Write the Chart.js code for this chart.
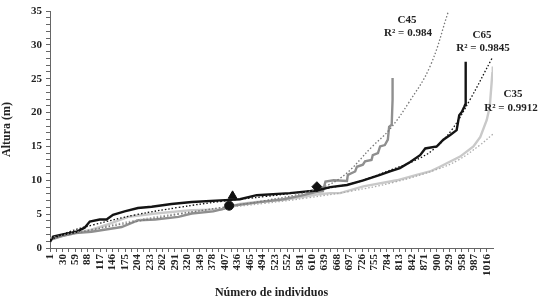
<!DOCTYPE html>
<html>
<head>
<meta charset="utf-8">
<script src="https://cdn.jsdelivr.net/npm/chart.js@4.4.0/dist/chart.umd.min.js"></script>
<style>
  body { margin: 0; background: #fff; }
  #wrap { width: 540px; height: 302px; }
</style>
</head>
<body>
<div id="wrap"><canvas id="alturas" width="540" height="302"></canvas></div>
<script>
// x tick labels (número de individuos)
const xLabels = [];
for (let v = 1; v <= 1016; v += 29) xLabels.push(v);

// ranked heights: [individuo, altura]
const c65 = [[1,0.9],[3,1.2],[8,1.7],[30,2.0],[62,2.4],[81,3.0],[93,3.9],[116,4.2],[132,4.2],[147,4.9],[174,5.4],[205,5.9],[237,6.1],[283,6.5],[330,6.8],[419,7.1],[442,7.2],[481,7.8],[558,8.1],[621,8.5],[652,9.0],[691,9.3],[729,10.0],[768,10.8],[791,11.3],[814,11.8],[838,12.7],[861,13.7],[873,14.7],[900,15.0],[915,16.0],[931,16.7],[946,17.4],[952,19.6],[958,20.1],[964,20.9],[966,21.2],[967,27.5]];
const c45 = [[1,1.2],[30,1.8],[60,2.2],[97,2.4],[167,3.1],[206,4.1],[245,4.2],[299,4.6],[330,5.1],[380,5.4],[411,5.9],[420,6.2],[480,6.7],[543,7.2],[582,7.7],[621,8.3],[635,8.4],[641,9.8],[660,10.0],[691,9.9],[693,10.8],[710,11.3],[714,12.0],[728,12.3],[733,12.8],[748,13.0],[751,13.7],[763,14.0],[768,15.0],[779,15.2],[786,16.0],[789,17.9],[795,18.2],[797,21.9],[797,25.1]];
const c35 = [[1,1.3],[30,1.8],[60,2.2],[97,2.7],[140,3.6],[182,4.6],[245,5.1],[330,5.6],[400,5.7],[411,6.0],[442,6.5],[481,6.8],[543,7.1],[582,7.5],[621,7.9],[652,8.1],[675,8.1],[729,9.1],[807,10.0],[853,10.8],[884,11.3],[907,12.0],[954,13.5],[985,15.0],[1001,16.4],[1016,18.9],[1023,20.9],[1029,25.8],[1030,26.8]];

// trend lines
const c65Trend = [[1,1.2],[50,2.5],[100,3.4],[200,4.9],[300,6.0],[400,6.9],[500,7.6],[600,8.4],[700,9.5],[750,10.5],[800,11.7],[845,12.8],[891,14.5],[934,17.4],[977,21.9],[1028,28.0]];
const c45Trend = [[1,1.4],[100,2.7],[200,3.9],[300,5.0],[400,6.0],[500,7.0],[600,8.3],[675,10.3],[750,15.0],[790,17.5],[835,21.5],[884,26.8],[927,35.0]];
const c35Trend = [[1,1.5],[100,2.8],[200,4.1],[300,5.1],[400,5.9],[500,6.6],[600,7.4],[700,8.4],[800,9.7],[900,11.6],[950,13.0],[1000,15.2],[1030,16.8]];

// markers
const markers = [[425,7.7],[417,6.25],[621,9.05]];
const markerStyles = ['triangle','circle','rectRot'];

// series notes
const notes = [
  { name: 'C45', r2: 'R² = 0.984' },
  { name: 'C65', r2: 'R² = 0.9845' },
  { name: 'C35', r2: 'R² = 0.9912' }
];

const pts = arr => arr.map(p => ({ x: p[0], y: p[1] }));
const serif = '"Liberation Serif", "DejaVu Serif", serif';

const xTickVals = [];
for (let v = 1; v <= 1030; v += 14.5) xTickVals.push(v);

const notesPlugin = {
  id: 'notes',
  afterDraw(chart) {
    const ctx = chart.ctx;
    const places = [[407, 20, 408, 33], [482, 35, 483, 48], [513, 94, 511, 108]];
    ctx.save();
    ctx.fillStyle = '#222';
    ctx.font = 'bold 11px ' + serif;
    ctx.textAlign = 'center';
    ctx.textBaseline = 'middle';
    notes.forEach((n, i) => {
      const p = places[i];
      ctx.fillText(n.name, p[0], p[1]);
      ctx.fillText(n.r2, p[2], p[3]);
    });
    ctx.restore();
  }
};

new Chart(document.getElementById('alturas'), {
  type: 'line',
  plugins: [notesPlugin],
  data: {
    datasets: [
      {
        label: 'marcas',
        data: pts(markers),
        showLine: false,
        pointStyle: markerStyles,
        pointRadius: [5, 4.5, 5],
        backgroundColor: '#111',
        borderColor: '#111',
        order: 0
      },
      { label: 'C65 tend', data: pts(c65Trend), borderColor: '#111', borderWidth: 1.3, borderDash: [1.5, 2], pointRadius: 0, tension: 0.4, order: 1 },
      { label: 'C45 tend', data: pts(c45Trend), borderColor: '#777', borderWidth: 1.3, borderDash: [1.5, 2], pointRadius: 0, tension: 0.4, order: 1 },
      { label: 'C35 tend', data: pts(c35Trend), borderColor: '#aaa', borderWidth: 1.3, borderDash: [1.5, 2], pointRadius: 0, tension: 0.4, order: 1 },
      { label: 'C65', data: pts(c65), borderColor: '#141414', borderWidth: 2.4, pointRadius: 0, order: 2 },
      { label: 'C45', data: pts(c45), borderColor: '#8f8f8f', borderWidth: 2.4, pointRadius: 0, order: 3 },
      { label: 'C35', data: pts(c35), borderColor: '#c9c9c9', borderWidth: 2.4, pointRadius: 0, order: 4 }
    ]
  },
  options: {
    responsive: false,
    animation: false,
    layout: { padding: { left: 0, top: 11, right: 47, bottom: 0 } },
    plugins: {
      legend: { display: false },
      tooltip: { enabled: false }
    },
    scales: {
      x: {
        type: 'linear',
        min: 0.5,
        max: 1030.5,
        afterBuildTicks: scale => { scale.ticks = xTickVals.map(v => ({ value: v })); },
        afterFit: scale => { scale.height = 54; },
        ticks: {
          autoSkip: false,
          minRotation: 90,
          maxRotation: 90,
          padding: 2,
          color: '#222',
          font: { family: serif, size: 11, weight: 'bold' },
          callback: v => xLabels.includes(v) ? String(v) : ''
        },
        grid: { display: true, drawOnChartArea: false, tickLength: 4, color: '#666' },
        border: { color: '#666', width: 1 },
        title: {
          display: true,
          text: 'Número de individuos',
          color: '#222',
          font: { family: serif, size: 12, weight: 'bold' },
          padding: { top: 0, bottom: 2 }
        }
      },
      y: {
        min: 0,
        max: 35,
        afterBuildTicks: scale => {
          const t = [];
          for (let v = 0; v <= 35; v++) t.push({ value: v });
          scale.ticks = t;
        },
        afterFit: scale => { scale.width = 50; },
        ticks: {
          autoSkip: false,
          padding: 4,
          color: '#222',
          font: { family: serif, size: 11, weight: 'bold' },
          callback: v => v % 5 === 0 ? String(v) : ''
        },
        grid: { display: true, drawOnChartArea: false, tickLength: 4, color: '#666' },
        border: { color: '#666', width: 1 },
        title: {
          display: true,
          text: 'Altura (m)',
          color: '#222',
          font: { family: serif, size: 12, weight: 'bold' },
          padding: { top: 0, bottom: 2 }
        }
      }
    }
  }
});
</script>
</body>
</html>
